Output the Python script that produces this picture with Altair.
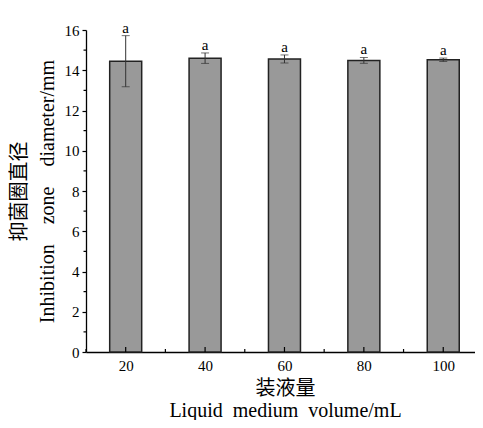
import altair as alt
import pandas as pd

volumes = [20, 40, 60, 80, 100]
means = [14.45, 14.60, 14.56, 14.49, 14.52]
sds = [1.27, 0.26, 0.20, 0.145, 0.085]
letters = ["a", "a", "a", "a", "a"]

x_major = [20, 40, 60, 80, 100]
x_minor = [10, 30, 50, 70, 90]
y_major = [0, 2, 4, 6, 8, 10, 12, 14, 16]
y_minor = [1, 3, 5, 7, 9, 11, 13, 15]

df = pd.DataFrame({"vol": volumes, "mean": means, "sd": sds, "letter": letters})
df["lo"] = df["mean"] - df["sd"]
df["hi"] = df["mean"] + df["sd"]

FONT = "Liberation Serif, Noto Sans CJK SC, serif"
W, H = 389, 322

xs = alt.Scale(domain=[10, 108], nice=False, zero=False, padding=0)
ys = alt.Scale(domain=[0, 16], nice=False, padding=0)

x_axis = alt.Axis(
    values=x_major, ticks=False, labelPadding=6, labelFont=FONT,
    labelFontSize=15, labelColor="black", grid=False, domainColor="black",
    domainWidth=1.3, title=["装液量", "Liquid\u2002medium\u2002volume/mL"],
    titleFont=FONT, titleFontSize=20, titleFontWeight="normal", titleColor="black",
    titleLineHeight=22, titleX=199, titleY=36, titleBaseline="middle",
    titleAlign="center",
)
y_axis = alt.Axis(
    values=y_major, tickSize=4, tickColor="black", tickWidth=1.2, labelPadding=3,
    labelFont=FONT, labelFontSize=15, labelColor="black", grid=False,
    domainColor="black", domainWidth=1.3,
    title=["抑菌圈直径", "Inhibition\u2003zone\u2003diameter/mm"],
    titleFont=FONT, titleFontSize=20, titleFontWeight="normal", titleColor="black",
    titleLineHeight=28, titleX=-67, titleY=H / 2, titleBaseline="middle",
    titleAlign="center", titleAngle=270,
)

base = alt.Chart(df)
bars = base.mark_bar(size=32, fill="#999999", stroke="#222222", strokeWidth=1.5).encode(
    x=alt.X("vol:Q", scale=xs, axis=x_axis),
    y=alt.Y("mean:Q", scale=ys, axis=y_axis),
)
err = base.mark_rule(color="#333333", strokeWidth=1).encode(
    x=alt.X("vol:Q"), y=alt.Y("lo:Q"), y2="hi:Q"
)
cap_hi = base.mark_tick(orient="horizontal", size=8, thickness=1, color="#333333").encode(
    x=alt.X("vol:Q"), y=alt.Y("hi:Q")
)
cap_lo = base.mark_tick(orient="horizontal", size=8, thickness=1, color="#333333").encode(
    x=alt.X("vol:Q"), y=alt.Y("lo:Q")
)
labels = base.mark_text(font=FONT, fontSize=15, baseline="alphabetic", dy=-3, color="black").encode(
    x=alt.X("vol:Q"), y=alt.Y("hi:Q"), text="letter:N"
)

xmaj = alt.Chart(pd.DataFrame({"vol": x_major})).mark_rule(color="black", strokeWidth=1.2).encode(
    x=alt.X("vol:Q"), y=alt.value(H), y2=alt.value(H - 5)
)
xmin = alt.Chart(pd.DataFrame({"vol": x_minor})).mark_rule(color="black", strokeWidth=1.2).encode(
    x=alt.X("vol:Q"), y=alt.value(H), y2=alt.value(H - 3)
)
ymin = alt.Chart(pd.DataFrame({"mean": y_minor})).mark_rule(color="black", strokeWidth=1.2).encode(
    y=alt.Y("mean:Q"), x=alt.value(-2.5), x2=alt.value(0)
)

chart = alt.layer(bars, err, cap_hi, cap_lo, labels, xmaj, xmin, ymin).properties(
    width=W, height=H,
    padding={"left": 78, "top": 22, "right": 0, "bottom": 68},
    autosize=alt.AutoSizeParams(type="none"),
    background="white",
).configure_view(stroke=None)

chart.save("out.html", embed_options={"renderer": "svg", "actions": False})
